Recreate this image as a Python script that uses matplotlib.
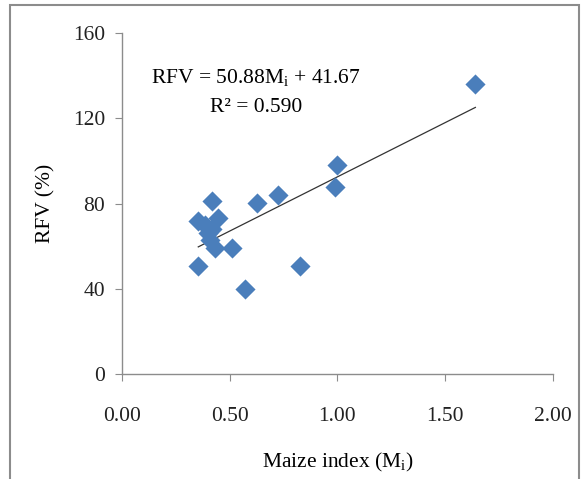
import matplotlib
matplotlib.use("Agg")
import matplotlib.pyplot as plt
from matplotlib.patches import Rectangle
import numpy as np

plt.rcParams['font.family'] = ['Liberation Serif', 'DejaVu Serif']
plt.rcParams['mathtext.fontset'] = 'custom'
plt.rcParams['mathtext.rm'] = 'Liberation Serif'

# maize index (Mi) and relative feed value (%)
maize_index = [1.64, 1.00, 0.99, 0.725, 0.625, 0.416, 0.354, 0.447, 0.385,
               0.40, 0.42, 0.432, 0.509, 0.354, 0.826, 0.571, 0.41]
rfv = [136, 98, 88, 84, 80.5, 81, 72, 73, 70,
       66, 68, 59, 59, 50.5, 50.5, 40, 63]

slope = 50.88
intercept = 41.67
r2 = 0.590

xticks = [0.0, 0.5, 1.0, 1.5, 2.0]
yticks = [0, 40, 80, 120, 160]

fig = plt.figure(figsize=(5.82, 4.79), dpi=100)
ax = fig.add_axes([0.2096, 0.219, 0.7405, 0.712])

ax.scatter(maize_index, rfv, marker='D', s=105, color='#4a7ebb', zorder=3, linewidths=0)

xs = np.array([min(maize_index), max(maize_index)])
ax.plot(xs, slope * xs + intercept, color='#333333', lw=0.9, zorder=2)

ax.text(0.622, 139, r'RFV = 50.88M$_\mathregular{i}$ + 41.67', ha='center', va='center', fontsize=15.5)
ax.text(0.622, 125, 'R\u00b2 = %.3f' % r2, ha='center', va='center', fontsize=15.5)

ax.set_xlim(0, 2.0)
ax.set_ylim(0, 160)
ax.set_xticks(xticks)
ax.set_xticklabels(['%.2f' % v for v in xticks])
ax.set_yticks(yticks)

for s in ['top', 'right']:
    ax.spines[s].set_visible(False)
for s in ['left', 'bottom']:
    ax.spines[s].set_color('#8c8c8c')
    ax.spines[s].set_linewidth(1.0)

ax.tick_params(axis='both', direction='out', length=5, color='#8c8c8c', labelsize=15.5, labelcolor='#222222')
ax.tick_params(axis='x', pad=19)
ax.tick_params(axis='y', pad=7)

ax.set_xlabel(r'Maize index (M$_\mathregular{i}$)', fontsize=15.5, labelpad=18)
ax.set_ylabel('RFV (%)', fontsize=15.5, labelpad=13)

fig.patches.append(Rectangle((10 / 582, -0.05), 569 / 582, 1.05 - 5 / 479, transform=fig.transFigure,
                             fill=False, edgecolor='#8c8c8c', lw=1.5))

fig.savefig('out.png', dpi=100)
